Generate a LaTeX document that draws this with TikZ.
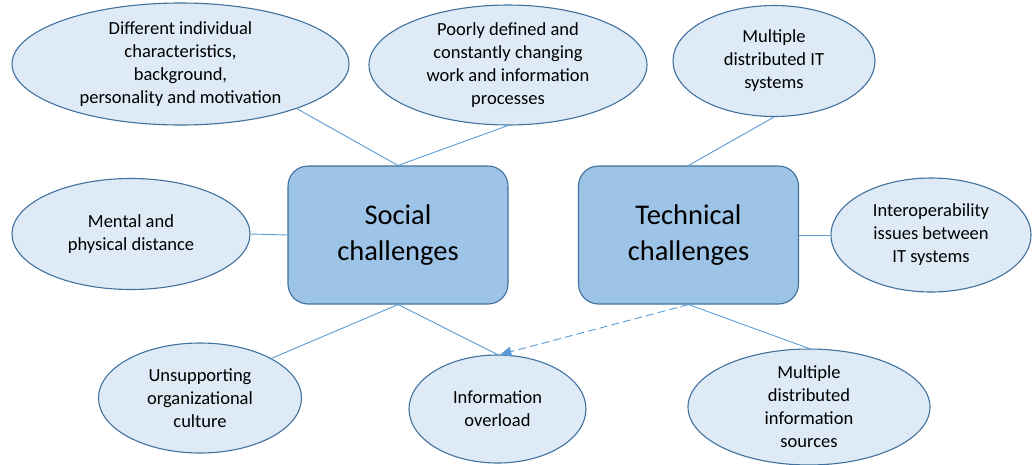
\documentclass[tikz,border=0pt]{standalone}
\usepackage{fontspec}
\setmainfont{Carlito}
\usepackage{tikz}
\usetikzlibrary{shapes.geometric, arrows.meta, positioning}

\definecolor{ellfill}{HTML}{DEEBF7}
\definecolor{boxfill}{HTML}{9DC3E6}
\definecolor{outline}{HTML}{41719C}
\definecolor{linkblue}{HTML}{5B9BD5}

\begin{document}
\begin{tikzpicture}[x=1pt, y=-1pt,
		link/.style={draw=linkblue, line width=0.9pt}
	]
	\tikzstyle{Node} = [ %basic look of the shapes
		text centered,
		align=center,
		draw=outline,
		line width=1.1pt,
		inner sep=0pt
	]
	\tikzstyle{EllNode} = [
		ellipse,
		fill=ellfill,
		font=\fontsize{18.5}{23}\selectfont,
		Node
	]
	\tikzstyle{BoxNode} = [
		rectangle,
		rounded corners=20pt,
		fill=boxfill,
		minimum width=220pt,
		minimum height=138pt,
		font=\fontsize{28.5}{36}\selectfont,
		Node
	]
	\useasboundingbox (0,0) rectangle (1034,464);

	\node (soc) [BoxNode] at (398,235) {Social\\challenges};
	\node (tech) [BoxNode] at (688.5,235) {Technical\\challenges};

	\node (e1) [EllNode, minimum width=337pt, minimum height=122pt] at (180.5,64)
		{Different individual\\characteristics,\\background,\\personality and motivation};
	\node (e2) [EllNode, minimum width=278pt, minimum height=110pt] at (508,65)
		{Poorly defined and\\constantly changing\\work and information\\processes};
	\node (e3) [EllNode, minimum width=202pt, minimum height=111pt] at (774,61)
		{Multiple\\distributed IT\\systems};
	\node (e4) [EllNode, minimum width=238pt, minimum height=111pt] at (131,234)
		{Mental and\\physical distance};
	\node (e5) [EllNode, minimum width=200pt, minimum height=114pt] at (931,235)
		{Interoperability\\issues between\\IT systems};
	\node (e6) [EllNode, minimum width=203pt, minimum height=110pt] at (200,398)
		{Unsupporting\\organizational\\culture};
	\node (e7) [EllNode, minimum width=177pt, minimum height=108pt] at (497.5,409)
		{Information\\overload};
	\node (e8) [EllNode, minimum width=242pt, minimum height=110pt] at (809,407)
		{Multiple\\distributed\\information\\sources};

	\draw[link] (soc.north) -- (e1.-21);
	\draw[link] (soc.north) -- (e2.south);
	\draw[link] (soc.west) -- (e4.east);
	\draw[link] (soc.south) -- (e6.29);
	\draw[link] (soc.south) -- (e7.north);
	\draw[link] (tech.north) -- (e3.south);
	\draw[link] (tech.east) -- (e5.west);
	\draw[link] (tech.south) -- (e8.north);
	\draw[link, dash pattern=on 8pt off 4pt, -{Triangle[length=11pt, width=10pt]}] (tech.south) -- (e7.87);
\end{tikzpicture}
\end{document}
